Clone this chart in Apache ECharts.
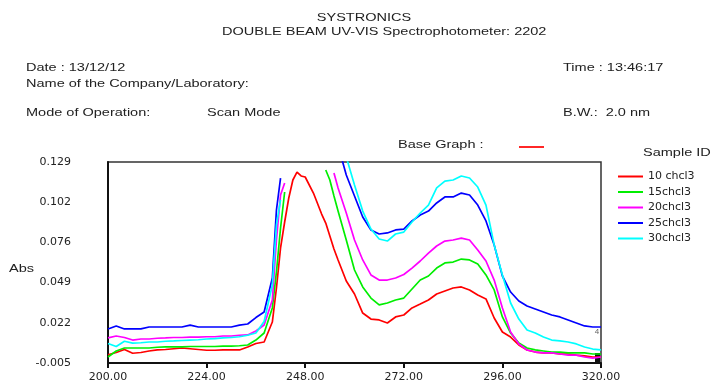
<!DOCTYPE html>
<html>
<head>
<meta charset="utf-8">
<script src="https://cdn.jsdelivr.net/npm/echarts@6/dist/echarts.min.js"></script>
<style>
  html, body { margin: 0; padding: 0; background: #fff; }
  #chart { width: 712px; height: 389px; }
</style>
</head>
<body>
<div id="chart"></div>
<script>
// Scan wavelengths (nm); finer steps across the steep absorption edge
const wavelengths = [
  200,202,204,206,208,210,212,214,216,218,220,222,224,226,228,230,232,234,236,238,240,
  241,242,243,244,245,246,247,248,250,252,253,254,255,
  256,258,260,262,264,266,268,270,272,274,276,278,280,282,284,286,288,290,292,294,296,298,
  300,302,304,306,308,310,312,314,316,318,320
];

// Absorbance per sample; null = reading off scale (not plotted)
const abs10 = [
  0.0005,0.002,0.004,0.0015,0.002,0.003,0.0037,0.004,0.0045,0.005,0.0045,0.004,0.0035,0.0035,0.0037,0.0037,0.0037,0.0057,0.008,0.009,0.0223,
  0.045,0.0717,0.089,0.105,0.117,0.1223,0.1197,0.119,0.1083,0.0943,0.0883,0.0797,0.071,
  0.0637,0.0497,0.041,0.0283,0.0243,0.0237,0.0217,0.0257,0.027,0.0317,0.0343,0.037,0.041,0.043,0.045,0.0457,0.0437,0.0403,0.0377,0.025,0.0157,0.0123,
  0.007,0.0037,0.0023,0.0017,0.0017,0.001,0.001,0.0003,-0.0003,-0.001,-0.001
];
const abs15 = [
  -0.001,0.003,0.005,0.005,0.005,0.005,0.0055,0.0057,0.0057,0.0057,0.006,0.006,0.006,0.006,0.0063,0.0063,0.0065,0.007,0.0103,0.015,0.0317,
  0.0557,0.085,0.109,null,null,null,null,null,null,null,0.1237,0.117,0.1063,
  0.0963,0.077,0.057,0.0457,0.0383,0.0337,0.035,0.037,0.0383,0.0443,0.0503,0.053,0.0583,0.0617,0.0623,0.0643,0.0637,0.061,0.0537,0.0437,0.0257,0.015,
  0.0083,0.005,0.0037,0.003,0.0023,0.0023,0.0017,0.0017,0.0017,0.001,0.001
];
const abs20 = [
  0.0117,0.013,0.012,0.0103,0.011,0.011,0.0115,0.0117,0.012,0.012,0.0123,0.0123,0.0125,0.0125,0.013,0.013,0.0135,0.0137,0.0163,0.0203,0.037,
  0.077,0.107,0.115,null,null,null,null,null,null,null,null,null,0.1217,
  0.1117,0.095,0.077,0.0637,0.0537,0.0503,0.0503,0.0517,0.054,0.0583,0.063,0.0683,0.073,0.0763,0.077,0.0783,0.077,0.0703,0.063,0.0503,0.0317,0.0157,
  0.0077,0.0037,0.0023,0.0017,0.0017,0.001,0.0003,0.0003,-0.001,-0.0017,-0.001
];
const abs25 = [
  0.0177,0.0197,0.0177,0.0177,0.0177,0.019,0.019,0.019,0.019,0.019,0.0203,0.019,0.019,0.019,0.019,0.019,0.0203,0.021,0.0253,0.029,0.0517,
  0.097,0.1183,null,null,null,null,null,null,null,null,null,null,null,
  0.140,0.1203,0.1063,0.0923,0.0837,0.081,0.0817,0.0837,0.0843,0.0897,0.0937,0.0963,0.1017,0.1057,0.1057,0.1083,0.107,0.1003,0.0897,0.0737,0.053,0.0423,
  0.0363,0.033,0.031,0.029,0.027,0.0257,0.0237,0.0217,0.0197,0.019,0.019
];
const abs30 = [
  0.008,0.006,0.0095,0.0083,0.0085,0.009,0.009,0.0095,0.0097,0.01,0.0103,0.0105,0.011,0.0113,0.0117,0.012,0.0125,0.0135,0.015,0.0227,0.047,
  0.087,0.1037,null,null,null,null,null,null,null,null,null,null,null,
  0.150,0.1323,0.1137,0.0963,0.0843,0.0777,0.0763,0.081,0.0823,0.089,0.095,0.1003,0.1117,0.1163,0.117,0.1197,0.1183,0.1123,0.1003,0.0737,0.0537,0.035,
  0.0243,0.017,0.015,0.0123,0.0103,0.0097,0.009,0.0077,0.0057,0.0043,0.0037
];

const sampleNames = ['10 chcl3', '15chcl3', '20chcl3', '25chcl3', '30chcl3'];
const sampleValues = [abs10, abs15, abs20, abs25, abs30];

// Axis range and printed tick labels
const xRange = [200, 320];
const yRange = [-0.005, 0.129];
const xTickLabels = ['200.00', '224.00', '248.00', '272.00', '296.00', '320.00'];
const yTickLabels = ['-0.005', '0.022', '0.049', '0.076', '0.102', '0.129'];

// Styling
const lineColors = ['#ff0000', '#00ee00', '#ff00ff', '#0000ff', '#00ffff'];
const textColor = '#222';
const headFont = '11px "Liberation Sans", Arial, sans-serif';
const axisFont = 'DejaVu Sans';

function headText(text, x, y, align) {
  return {
    type: 'text', x: x, y: y, scaleX: 1.32, silent: true,
    style: {
      text: text, font: headFont, fill: textColor,
      align: align || 'left', verticalAlign: 'middle',
      textAlign: align || 'left', textVerticalAlign: 'middle'
    }
  };
}

const chart = echarts.init(document.getElementById('chart'), null, { renderer: 'canvas' });

const series = sampleNames.map((name, k) => ({
  name: name,
  type: 'line',
  xAxisIndex: 1,
  yAxisIndex: 1,
  data: wavelengths.map((w, i) => [w, sampleValues[k][i] === null ? '-' : sampleValues[k][i]]),
  showSymbol: false,
  symbol: 'none',
  connectNulls: false,
  clip: true,
  lineStyle: { width: 1.7, color: lineColors[k] },
  itemStyle: { color: lineColors[k] },
  animation: false
}));

chart.setOption({
  animation: false,
  backgroundColor: '#fff',
  grid: {
    left: 108, top: 162, width: 493, height: 201,
    show: true, borderColor: '#333', borderWidth: 1.5, backgroundColor: 'transparent'
  },
  xAxis: [
    {
      // tick/label axis: one step per printed label
      type: 'value', min: 0, max: xTickLabels.length - 1, interval: 1,
      axisLine: { show: true, onZero: false, lineStyle: { color: '#111', width: 2 } },
      axisTick: { show: true, length: 5, lineStyle: { color: '#111', width: 2 } },
      axisLabel: {
        formatter: v => xTickLabels[v], margin: 9,
        color: textColor, fontFamily: axisFont, fontSize: 11
      },
      splitLine: { show: false }
    },
    { type: 'value', min: xRange[0], max: xRange[1], show: false }
  ],
  yAxis: [
    {
      type: 'value', min: 0, max: yTickLabels.length - 1, interval: 1,
      axisLine: { show: true, onZero: false, lineStyle: { color: '#111', width: 2 } },
      axisTick: { show: false },
      axisLabel: {
        formatter: v => yTickLabels[v], margin: 37,
        color: textColor, fontFamily: axisFont, fontSize: 11
      },
      splitLine: { show: false }
    },
    { type: 'value', min: yRange[0], max: yRange[1], show: false }
  ],
  legend: {
    orient: 'vertical', left: 618, top: 171, padding: 0,
    icon: 'rect', itemWidth: 25, itemHeight: 2, itemGap: 4.5,
    textStyle: { color: textColor, fontFamily: axisFont, fontSize: 11 },
    data: sampleNames
  },
  graphic: [
    headText('SYSTRONICS', 364, 18, 'center'),
    headText('DOUBLE BEAM UV-VIS Spectrophotometer: 2202', 222, 32),
    headText('Date : 13/12/12', 26, 68),
    headText('Name of the Company/Laboratory:', 26, 84),
    headText('Time : 13:46:17', 563, 68),
    headText('Mode of Operation:', 26, 113),
    headText('Scan Mode', 207, 113),
    headText('B.W.:  2.0 nm', 563, 113),
    headText('Base Graph :', 398, 145),
    headText('Sample ID', 643, 153),
    headText('Abs', 9, 269),
    {
      type: 'line', silent: true,
      shape: { x1: 519, y1: 147, x2: 544, y2: 147 },
      style: { stroke: '#ff0000', lineWidth: 1.7 }
    },
    {
      type: 'text', x: 597, y: 332, silent: true,
      style: { text: '4', font: '8px "Liberation Sans", Arial, sans-serif', fill: '#666',
               align: 'center', verticalAlign: 'middle', textAlign: 'center', textVerticalAlign: 'middle' }
    },
    {
      type: 'rect', silent: true,
      shape: { x: 595, y: 353, width: 5, height: 9 },
      style: { fill: '#111' }
    }
  ],
  series: series
});
</script>
</body>
</html>
